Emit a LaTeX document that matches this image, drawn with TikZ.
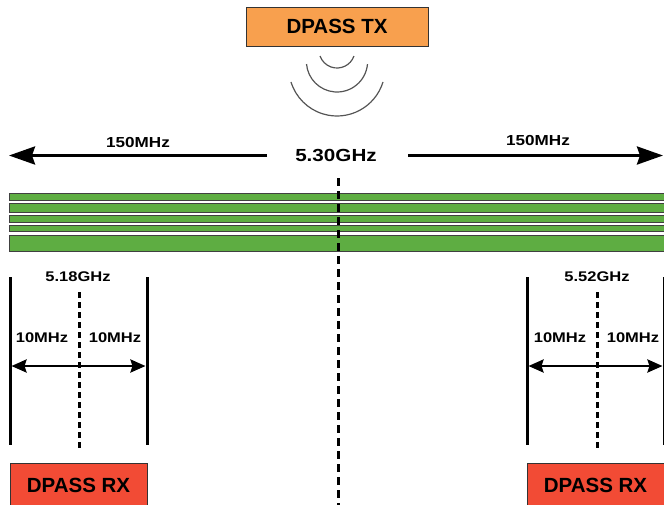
\documentclass[tikz,border=0pt]{standalone}
\usepackage{fontspec}
\setmainfont{Liberation Sans}
\newfontfamily\stretchfont{Liberation Sans}[FakeStretch=1.18]
\usetikzlibrary{arrows.meta}
\definecolor{txorange}{HTML}{F8A04E}
\definecolor{rxred}{HTML}{F24B35}
\definecolor{bandgreen}{HTML}{5EAD42}
\definecolor{wavegray}{HTML}{555555}
\tikzset{radiobox/.style  = {draw=black!80, line width=0.8pt, minimum height=39pt,
                             font=\fontsize{20.5}{24}\selectfont\bfseries},
         freqlabel/.style = {inner sep=0pt, font=\stretchfont\fontsize{14}{16}\selectfont\bfseries},
         bandbar/.style   = {draw=black!75, line width=1pt, fill=bandgreen},
         spanarrow/.style = {line width=3pt, -{Stealth[length=26pt,width=18pt,inset=3pt]}},
         chanarrow/.style = {line width=2.5pt,
                             {Stealth[length=15pt,width=13pt,inset=2pt]}-{Stealth[length=15pt,width=13pt,inset=2pt]}},
         edgeline/.style  = {line width=3pt},
         centerline/.style = {line width=3pt, dash pattern=on 8pt off 5pt},
         waveline/.style  = {wavegray, line width=1.2pt}}

\begin{document}
\begin{tikzpicture}[x=1pt, y=-1pt]
    \useasboundingbox (0, 0) rectangle (664, 504);

    % transmitter and its waves
    \node [radiobox, fill=txorange, minimum width=182pt] (tx) at (337, 26.5) {DPASS TX};
    \foreach \cy/\r/\a in {50/18/19.5, 61.4/30.6/5, 67.9/48.1/17}
      \draw [waveline] ([shift={(\a:\r)}] 337, \cy) arc [start angle=\a, end angle=180-\a, radius=\r];

    % total span
    \node [freqlabel, font=\stretchfont\fontsize{17.5}{20}\selectfont\bfseries] (ctr) at (336, 155) {5.30GHz};
    \coordinate (lstart) at (267, 155.5);
    \coordinate (ltip) at (9, 155.5);
    \coordinate (rstart) at (408, 155.5);
    \coordinate (rtip) at (663, 155.5);
    \draw [spanarrow] (lstart) -- (ltip);
    \draw [spanarrow] (rstart) -- (rtip);
    \node [freqlabel, font=\stretchfont\fontsize{14.5}{16}\selectfont\bfseries] (bwl) at (138, 143) {150MHz};
    \node [freqlabel, font=\stretchfont\fontsize{14.5}{16}\selectfont\bfseries] (bwr) at (538, 141) {150MHz};

    \foreach \top/\bot in {193.3/200, 203.3/212.7, 215.7/222.3, 225/231.7, 235.7/251}
      \draw [bandbar] (9.5, \top) rectangle (668, \bot);
    \draw [centerline] (338, 178) -- (338, 506);

    \begin{scope}
      \draw [edgeline] (10, 277) -- (10, 445);
      \draw [edgeline] (147, 277) -- (147, 445);
      \draw [centerline, dash pattern=on 6pt off 4pt] (79, 292) -- (79, 450);
      \node [freqlabel] (fcl) at (78, 277) {5.18GHz};
      \node [freqlabel] (bwll) at (42, 338) {10MHz};
      \node [freqlabel] (bwlr) at (115, 338) {10MHz};
      \coordinate (chl1) at (11.5, 366);
      \coordinate (chl2) at (145.5, 366);
      \draw [chanarrow] (chl1) -- (chl2);
      \node [radiobox, fill=rxred, minimum width=137pt, minimum height=45pt] (rxl) at (78.5, 485.5) {DPASS RX};
    \end{scope}

    \begin{scope}[shift={(517, 0)}]
      \draw [edgeline] (10, 277) -- (10, 445);
      \draw [edgeline] (147, 277) -- (147, 445);
      \draw [centerline, dash pattern=on 6pt off 4pt] (80, 292) -- (80, 450);
      \node [freqlabel] (fcr) at (80, 277) {5.52GHz};
      \node [freqlabel] (bwrl) at (43, 338) {10MHz};
      \node [freqlabel] (bwrr) at (116, 338) {10MHz};
      \coordinate (chr1) at (11.5, 366);
      \coordinate (chr2) at (145.5, 366);
      \draw [chanarrow] (chr1) -- (chr2);
      \node [radiobox, fill=rxred, minimum width=137pt, minimum height=45pt] (rxr) at (78.5, 485.5) {DPASS RX};
    \end{scope}
  \end{tikzpicture}
\end{document}
